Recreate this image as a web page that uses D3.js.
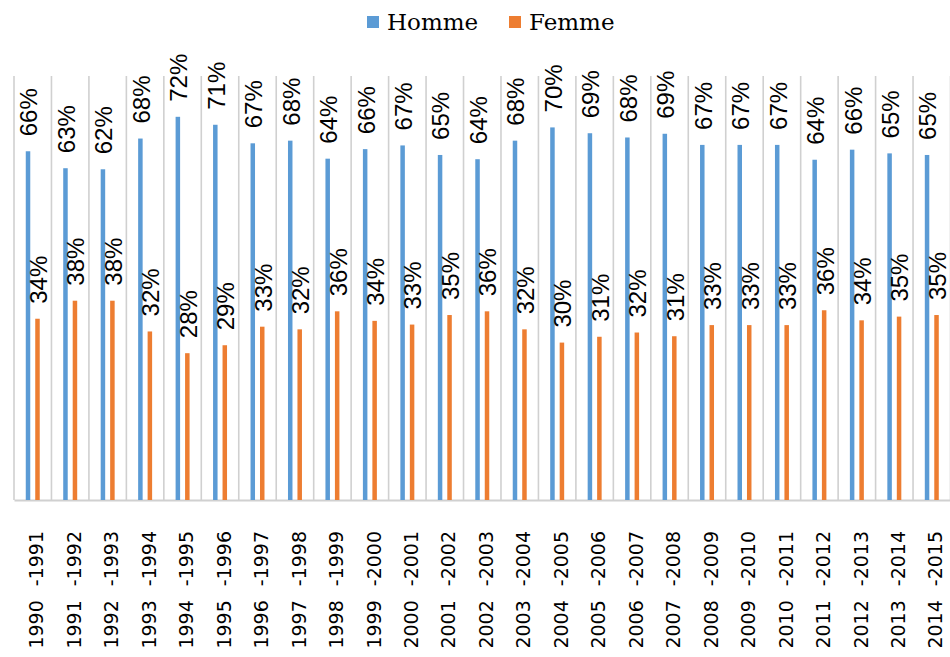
<!DOCTYPE html>
<html>
<head>
<meta charset="utf-8">
<script src="https://cdn.jsdelivr.net/npm/d3@7"></script>
<style>
  body { margin: 0; background: #fff; }
  svg { display: block; }
</style>
</head>
<body>
<svg id="chart" width="950" height="657"></svg>
<script>
// data (shares, per season)
const categories = [
  "1990 -1991", "1991 -1992", "1992 -1993", "1993 -1994", "1994 -1995",
  "1995 -1996", "1996 -1997", "1997 -1998", "1998 -1999", "1999 -2000",
  "2000 -2001", "2001 -2002", "2002 -2003", "2003 -2004", "2004 -2005",
  "2005 -2006", "2006 -2007", "2007 -2008", "2008 -2009", "2009 -2010",
  "2010 -2011", "2011 -2012", "2012 -2013", "2013 -2014", "2014 -2015"
];
const homme = [
  0.658, 0.626, 0.624, 0.682, 0.723, 0.708, 0.673, 0.678, 0.644, 0.662,
  0.669, 0.651, 0.643, 0.678, 0.703, 0.692, 0.684, 0.691, 0.670, 0.670,
  0.670, 0.642, 0.661, 0.654, 0.651
];
const femme = [
  0.342, 0.376, 0.376, 0.318, 0.277, 0.292, 0.327, 0.322, 0.356, 0.338,
  0.331, 0.349, 0.356, 0.322, 0.297, 0.308, 0.316, 0.309, 0.330, 0.330,
  0.330, 0.358, 0.339, 0.346, 0.349
];
const seriesNames = ["Homme", "Femme"];
const colors = ["#5B9BD5", "#ED7D31"];

const svg = d3.select("#chart");

const margin = { top: 76, left: 14, right: 0, bottom: 157 };
const width = +svg.attr("width");
const height = +svg.attr("height");
const innerWidth = width - margin.left - margin.right + 0.5;
const innerHeight = height - margin.top - margin.bottom;

const data = categories.map((c, i) => ({ cat: c, Homme: homme[i], Femme: femme[i] }));

const xScale = d3.scaleBand().domain(categories).range([0, innerWidth]).padding(0);
const bw = xScale.bandwidth();
const xSub = d3.scalePoint().domain(seriesNames).range([bw * 0.374, bw * 0.627]);
const yScale = d3.scaleLinear().domain([0, 0.8]).range([innerHeight, 0]);
const color = d3.scaleOrdinal().domain(seriesNames).range(colors);
const barW = 4.5;

const chart = svg.append("g")
  .attr("transform", `translate(${margin.left},${margin.top})`);

// vertical gridlines at category boundaries
const bounds = categories.map((c) => xScale(c)).concat([xScale.range()[1]]);
chart.append("g")
  .selectAll("line")
  .data(bounds)
  .enter().append("line")
  .attr("x1", (d) => d).attr("x2", (d) => d)
  .attr("y1", 0).attr("y2", innerHeight)
  .attr("stroke", "#d0d0d0")
  .attr("stroke-width", 1.6);

// category axis
const xAxis = d3.axisBottom(xScale).tickSize(0).tickSizeOuter(0);
const xg = chart.append("g")
  .attr("transform", `translate(0, ${innerHeight})`)
  .call(xAxis);
xg.select(".domain").attr("stroke", "#d0d0d0").attr("stroke-width", 2);
xg.selectAll("text")
  .attr("transform", "rotate(-90)")
  .attr("text-anchor", "end")
  .attr("x", -31)
  .attr("y", 4)
  .attr("dy", "0.35em")
  .attr("fill", "#000")
  .style("font-family", "'DejaVu Sans', sans-serif")
  .style("font-size", "19px")
  .style("word-spacing", "8px");

// bars
const groups = chart.selectAll(".cat")
  .data(data)
  .enter().append("g")
  .attr("class", "cat")
  .attr("transform", (d) => `translate(${xScale(d.cat)},0)`);

const cells = groups.selectAll(".cell")
  .data((d) => seriesNames.map((s) => ({ key: s, value: d[s] })))
  .enter().append("g")
  .attr("class", "cell");

cells.append("rect")
  .attr("x", (d) => xSub(d.key) - barW / 2)
  .attr("y", (d) => yScale(d.value))
  .attr("width", barW)
  .attr("height", (d) => innerHeight - yScale(d.value))
  .attr("fill", (d) => color(d.key));

// value labels, rotated
const fmt = d3.format(".0%");
cells.append("text")
  .attr("transform", (d) => `translate(${xSub(d.key) + 1},${yScale(d.value) - 15}) rotate(-90)`)
  .attr("dy", "0.35em")
  .attr("text-anchor", "start")
  .style("font-family", "'Liberation Sans Narrow', 'Liberation Sans', sans-serif")
  .style("font-size", "24px")
  .attr("fill", "#000")
  .text((d) => fmt(d.value));

// legend
const legendPos = [367, 509];
const legend = svg.append("g")
  .selectAll("g")
  .data(seriesNames)
  .enter().append("g")
  .attr("transform", (d, i) => `translate(${legendPos[i]},16)`);
legend.append("rect")
  .attr("width", 12).attr("height", 12)
  .attr("fill", (d) => color(d));
legend.append("text")
  .attr("x", 20).attr("y", 14)
  .style("font-family", "'DejaVu Serif', serif")
  .style("font-size", "23px")
  .attr("fill", "#000")
  .text((d) => d);
</script>
</body>
</html>
